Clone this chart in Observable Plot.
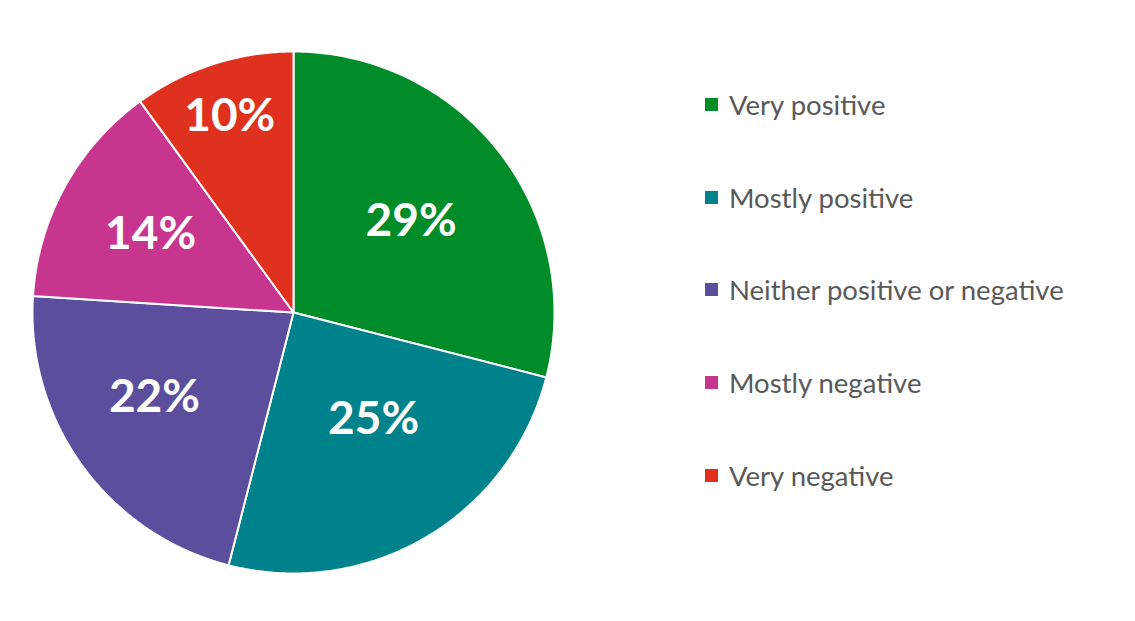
<!DOCTYPE html>
<html>
<head>
<meta charset="utf-8">
<script src="https://cdn.jsdelivr.net/npm/d3@7"></script>
<script src="https://cdn.jsdelivr.net/npm/@observablehq/plot@0.6"></script>
<style>
  html, body { margin: 0; padding: 0; background: #fff; }
  #wrap { position: relative; width: 1135px; height: 621px; font-family: Lato, "Open Sans", sans-serif; }
  #legend { position: absolute; left: 705px; top: 58px; }
  .item { height: 92.75px; display: flex; align-items: center; font-size: 27.5px; color: #595959; }
  .sw { width: 13px; height: 13px; margin-right: 11px; flex: none; }
</style>
</head>
<body>
<div id="wrap"><div id="chart"></div><div id="legend"></div></div>
<script>
const categories = ["Very positive", "Mostly positive", "Neither positive or negative", "Mostly negative", "Very negative"];
const values = [29, 25, 22, 14, 10];
const colors = ["#008C28", "#00828C", "#5B4E9C", "#C8358E", "#E0301E"];

const total = d3.sum(values);
const cum = d3.cumsum(values);
const labelR = [0.57, 0.51, 0.625, 0.625, 0.79];
const labelShift = [0, -6.4, 4.5, 0, 0].map(d => d * Math.PI / 180);

const pts = [];
const labels = [];
categories.forEach((c, i) => {
  const a0 = (cum[i] - values[i]) / total * 2 * Math.PI;
  const a1 = cum[i] / total * 2 * Math.PI;
  pts.push({cat: c, x: 0, y: 0});
  const n = Math.max(2, Math.ceil((a1 - a0) / (Math.PI / 360)));
  for (let k = 0; k <= n; k++) {
    const a = a0 + (a1 - a0) * k / n;
    pts.push({cat: c, x: Math.sin(a), y: Math.cos(a)});
  }
  pts.push({cat: c, x: 0, y: 0});
  const am = (a0 + a1) / 2 + labelShift[i];
  labels.push({cat: c, x: labelR[i] * Math.sin(am), y: labelR[i] * Math.cos(am), text: values[i] + "%"});
});

const cx = 293, cy = 312, R = 261;
const plot = Plot.plot({
  width: 700,
  height: 621,
  margin: 0,
  x: {domain: [-1, 1], range: [cx - R, cx + R], axis: null},
  y: {domain: [-1, 1], range: [cy + R, cy - R], axis: null},
  color: {domain: categories, range: colors},
  marks: [
    Plot.line(pts, {x: "x", y: "y", z: "cat", fill: "cat", stroke: "white", strokeWidth: 2, strokeLinejoin: "round", curve: "linear-closed"}),
    Plot.text(labels, {x: "x", y: "y", text: "text", fill: "white", fontSize: 46, fontWeight: "bold", fontFamily: "Lato, 'Open Sans', sans-serif"})
  ]
});
document.getElementById("chart").appendChild(plot);

const legend = d3.select("#legend");
categories.forEach((c, i) => {
  const it = legend.append("div").attr("class", "item");
  it.append("div").attr("class", "sw").style("background", colors[i]);
  it.append("span").text(c);
});
</script>
</body>
</html>
